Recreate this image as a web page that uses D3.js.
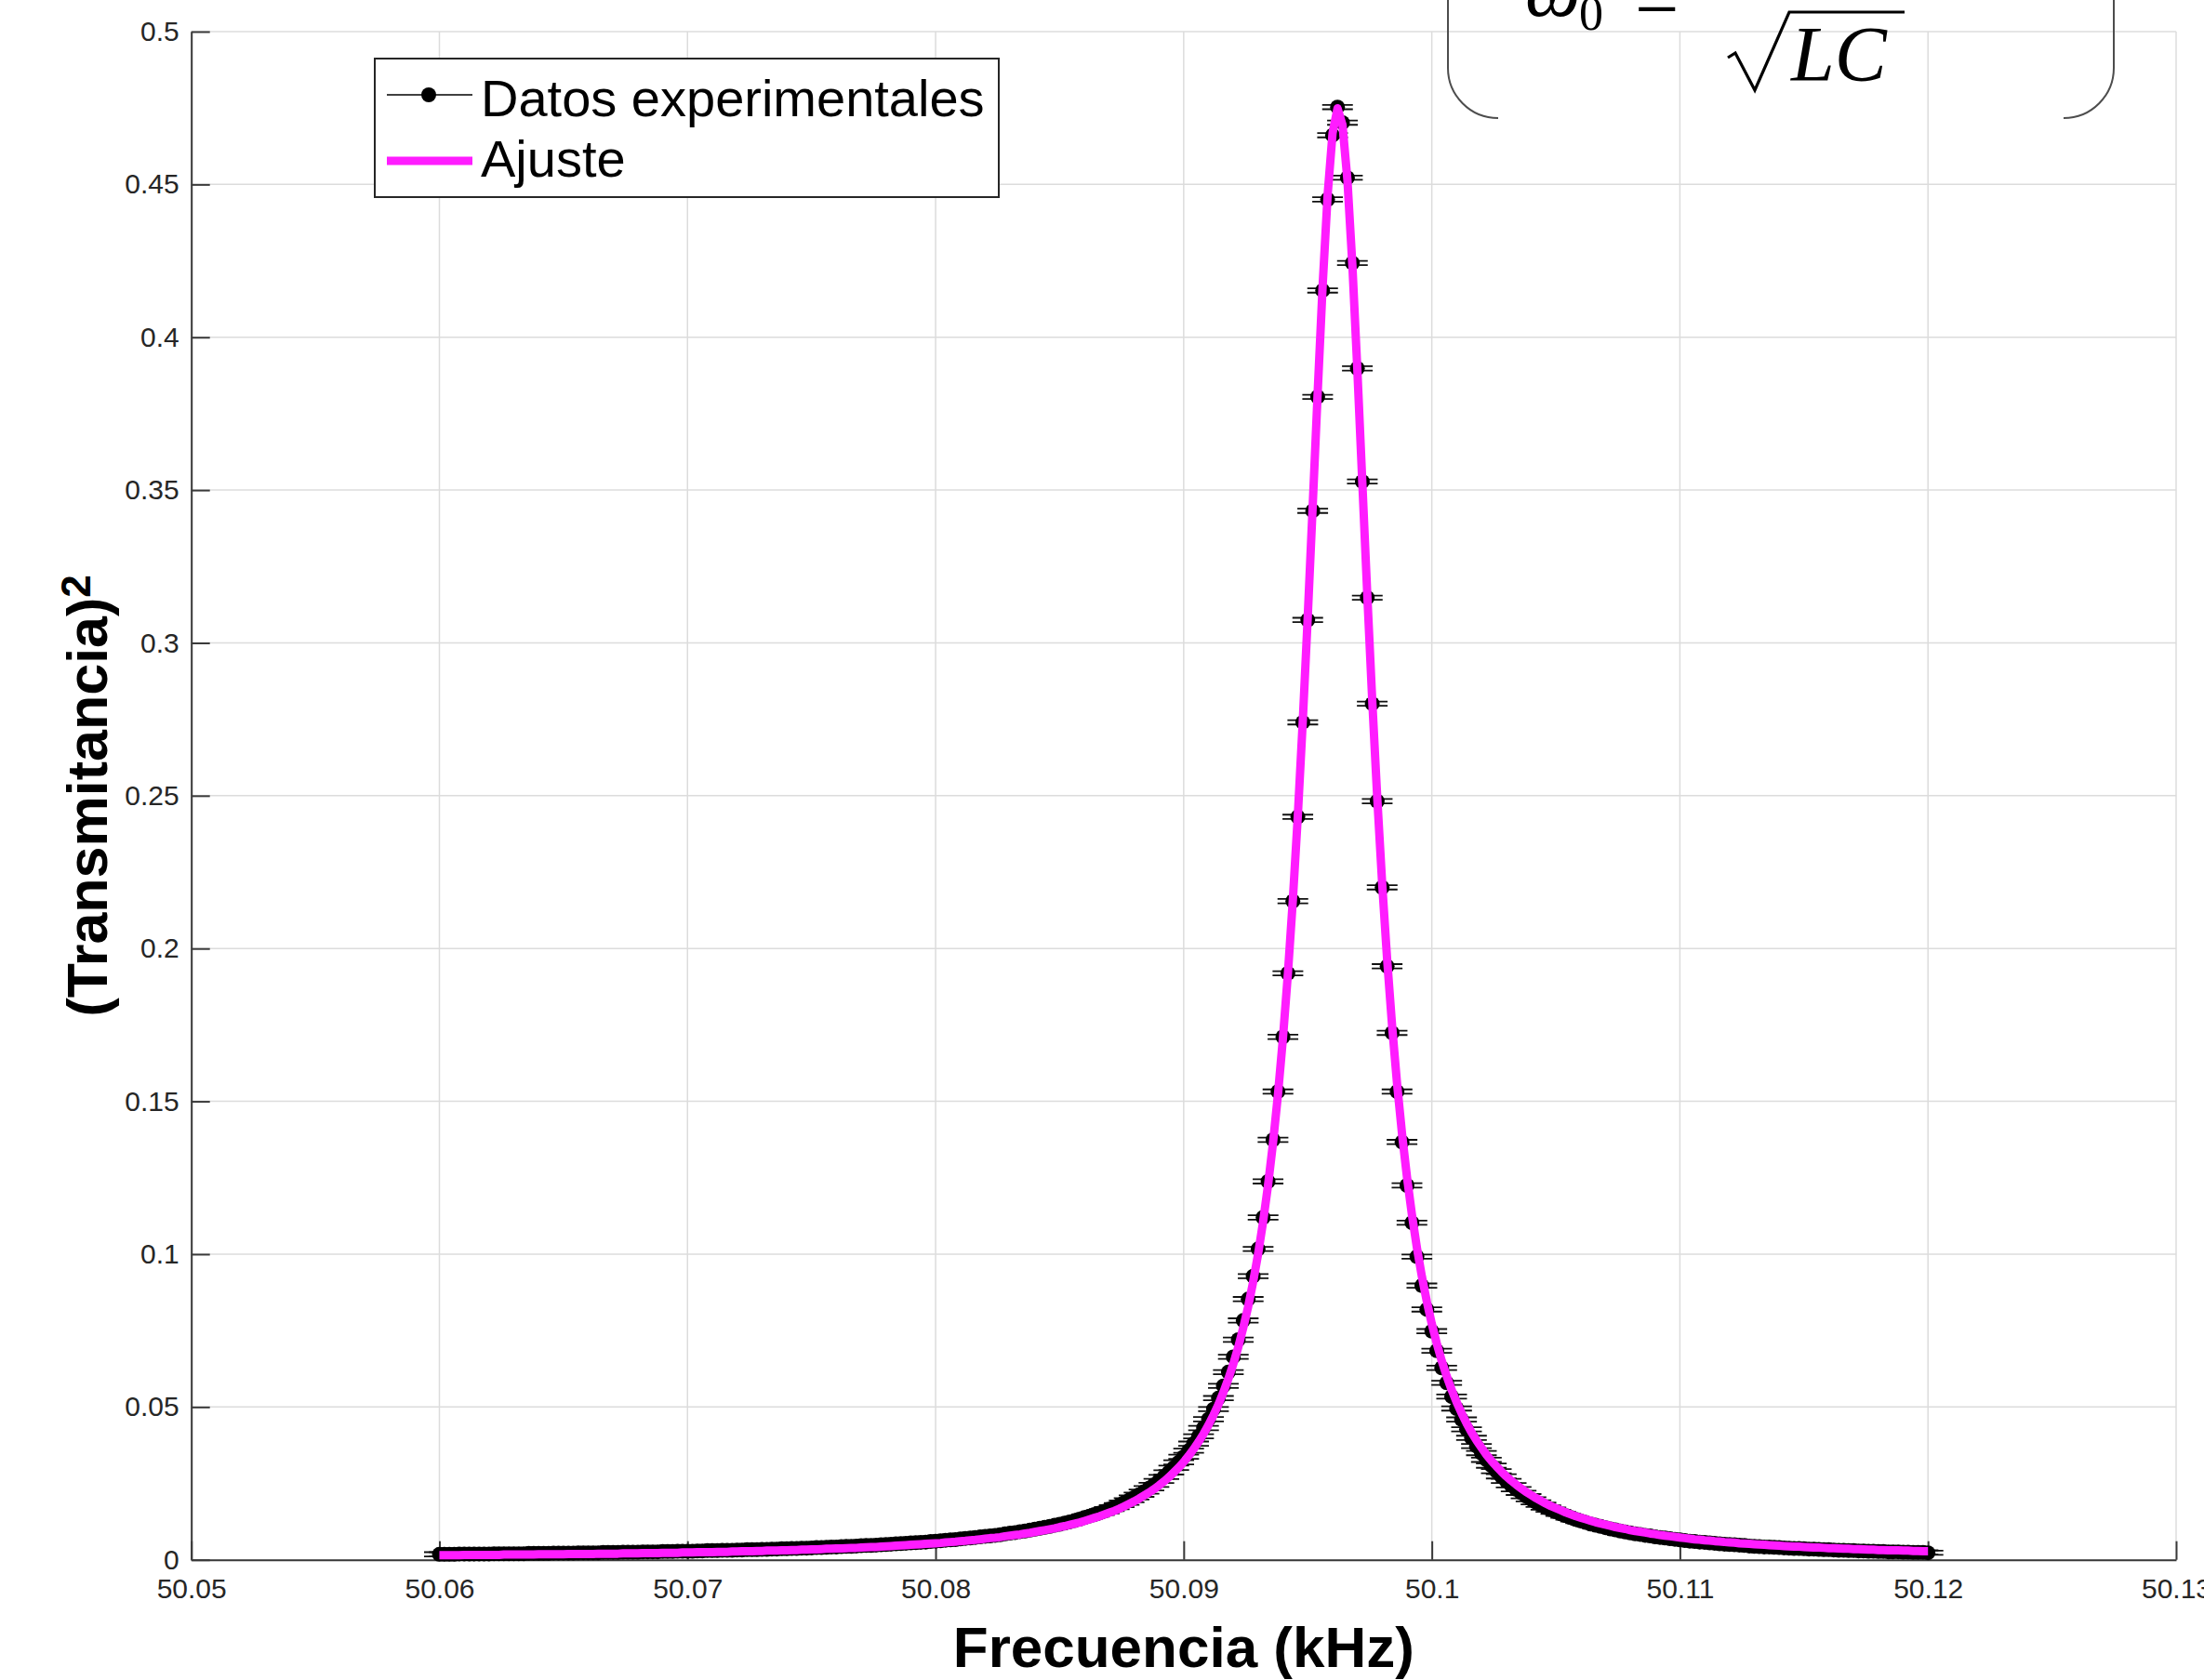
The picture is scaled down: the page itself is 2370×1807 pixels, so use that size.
<!DOCTYPE html>
<html>
<head>
<meta charset="utf-8">
<script src="https://cdn.jsdelivr.net/npm/d3@7"></script>
<style>
  html, body { margin: 0; padding: 0; background: #ffffff; }
  svg { display: block; }
</style>
</head>
<body>
<svg id="chart" width="2370" height="1807"></svg>
<script>
// Frequency sweep (kHz): 301 points from 50.0600 kHz in 0.2 Hz steps
const frecuenciaInicio = 50.06;
const pasoFrecuencia = 0.0002;

// Measured squared transmittance, one value per sweep point
const transmitancia2 = [
  .0018,.0018,.0018,.0018,.0019,.0019,.0019,.0019,.0019,.0019,
  .0019,.0020,.0020,.0020,.0020,.0020,.0020,.0020,.0021,.0021,
  .0021,.0021,.0021,.0022,.0022,.0022,.0022,.0022,.0023,.0023,
  .0023,.0023,.0023,.0024,.0024,.0024,.0024,.0025,.0025,.0025,
  .0025,.0026,.0026,.0026,.0026,.0027,.0027,.0027,.0028,.0028,
  .0028,.0028,.0029,.0029,.0030,.0030,.0030,.0031,.0031,.0031,
  .0032,.0032,.0033,.0033,.0033,.0034,.0034,.0035,.0035,.0036,
  .0036,.0037,.0037,.0038,.0038,.0039,.0040,.0040,.0041,.0042,
  .0042,.0043,.0044,.0044,.0045,.0046,.0047,.0047,.0048,.0049,
  .0050,.0051,.0052,.0053,.0054,.0055,.0056,.0057,.0058,.0060,
  .0061,.0062,.0064,.0065,.0066,.0068,.0070,.0071,.0073,.0075,
  .0077,.0078,.0080,.0082,.0085,.0087,.0089,.0092,.0094,.0097,
  .0100,.0103,.0106,.0109,.0113,.0116,.0120,.0124,.0128,.0133,
  .0138,.0143,.0148,.0153,.0159,.0166,.0172,.0179,.0187,.0195,
  .0204,.0213,.0223,.0234,.0245,.0258,.0271,.0286,.0301,.0319,
  .0337,.0357,.0380,.0404,.0431,.0460,.0493,.0529,.0569,.0614,
  .0664,.0720,.0783,.0853,.0928,.1017,.1120,.1238,.1374,.1532,
  .1711,.1919,.2155,.2431,.2740,.3075,.3432,.3805,.4153,.4451,
  .4661,.4753,.4702,.4522,.4243,.3898,.3528,.3148,.2801,.2482,
  .2200,.1942,.1724,.1532,.1367,.1225,.1103,.0992,.0897,.0819,
  .0748,.0684,.0628,.0579,.0534,.0495,.0459,.0427,.0399,.0372,
  .0349,.0327,.0308,.0290,.0273,.0258,.0244,.0231,.0219,.0208,
  .0198,.0188,.0180,.0171,.0164,.0157,.0150,.0144,.0138,.0132,
  .0127,.0122,.0117,.0113,.0109,.0105,.0101,.0098,.0094,.0091,
  .0088,.0085,.0083,.0080,.0078,.0075,.0073,.0071,.0069,.0067,
  .0065,.0063,.0061,.0060,.0058,.0057,.0055,.0054,.0052,.0051,
  .0050,.0049,.0048,.0047,.0045,.0044,.0043,.0042,.0042,.0041,
  .0040,.0039,.0038,.0037,.0037,.0036,.0035,.0035,.0034,.0033,
  .0033,.0032,.0031,.0031,.0030,.0030,.0029,.0029,.0028,.0028,
  .0027,.0027,.0026,.0026,.0026,.0025,.0025,.0024,.0024,.0024,
  .0023
];

// Fitted resonance curve evaluated on the same sweep
const ajuste = [
  .0015,.0015,.0015,.0015,.0015,.0016,.0016,.0016,.0016,.0016,
  .0016,.0016,.0016,.0017,.0017,.0017,.0017,.0017,.0017,.0017,
  .0018,.0018,.0018,.0018,.0018,.0018,.0019,.0019,.0019,.0019,
  .0019,.0019,.0020,.0020,.0020,.0020,.0020,.0021,.0021,.0021,
  .0021,.0022,.0022,.0022,.0022,.0023,.0023,.0023,.0023,.0024,
  .0024,.0024,.0025,.0025,.0025,.0025,.0026,.0026,.0026,.0027,
  .0027,.0028,.0028,.0028,.0029,.0029,.0030,.0030,.0030,.0031,
  .0031,.0032,.0032,.0033,.0033,.0034,.0034,.0035,.0036,.0036,
  .0037,.0037,.0038,.0039,.0039,.0040,.0041,.0042,.0042,.0043,
  .0044,.0045,.0046,.0047,.0048,.0049,.0050,.0051,.0052,.0053,
  .0054,.0055,.0057,.0058,.0059,.0061,.0062,.0064,.0065,.0067,
  .0069,.0071,.0072,.0074,.0077,.0079,.0081,.0083,.0086,.0088,
  .0091,.0094,.0097,.0100,.0103,.0107,.0110,.0114,.0118,.0122,
  .0127,.0132,.0137,.0142,.0148,.0154,.0160,.0167,.0175,.0183,
  .0191,.0200,.0210,.0220,.0231,.0243,.0256,.0270,.0286,.0302,
  .0320,.0340,.0362,.0386,.0412,.0441,.0473,.0508,.0548,.0592,
  .0641,.0696,.0759,.0829,.0910,.1001,.1106,.1226,.1364,.1523,
  .1707,.1918,.2160,.2435,.2745,.3086,.3449,.3819,.4169,.4464,
  .4668,.4749,.4695,.4514,.4234,.3892,.3524,.3157,.2811,.2495,
  .2212,.1964,.1747,.1558,.1394,.1252,.1129,.1021,.0927,.0845,
  .0772,.0708,.0651,.0601,.0556,.0516,.0480,.0447,.0417,.0391,
  .0367,.0344,.0324,.0306,.0289,.0273,.0259,.0246,.0234,.0222,
  .0212,.0202,.0193,.0184,.0176,.0169,.0162,.0155,.0149,.0143,
  .0138,.0133,.0128,.0123,.0119,.0115,.0111,.0107,.0104,.0101,
  .0097,.0094,.0092,.0089,.0086,.0084,.0081,.0079,.0077,.0075,
  .0073,.0071,.0069,.0067,.0066,.0064,.0063,.0061,.0060,.0058,
  .0057,.0056,.0054,.0053,.0052,.0051,.0050,.0049,.0048,.0047,
  .0046,.0045,.0044,.0043,.0043,.0042,.0041,.0040,.0040,.0039,
  .0038,.0038,.0037,.0036,.0036,.0035,.0035,.0034,.0033,.0033,
  .0032,.0032,.0031,.0031,.0031,.0030,.0030,.0029,.0029,.0028,
  .0028
];

// Uncertainty of each transmittance reading
const errorTransmitancia2 = 0.0007;

const ticksX = [50.05, 50.06, 50.07, 50.08, 50.09, 50.10, 50.11, 50.12, 50.13];
const etiquetasX = ["50.05", "50.06", "50.07", "50.08", "50.09", "50.1", "50.11", "50.12", "50.13"];
const ticksY = [0, 0.05, 0.10, 0.15, 0.20, 0.25, 0.30, 0.35, 0.40, 0.45, 0.50];
const etiquetasY = ["0", "0.05", "0.1", "0.15", "0.2", "0.25", "0.3", "0.35", "0.4", "0.45", "0.5"];
const leyenda = ["Datos experimentales", "Ajuste"];

const frecuencias = d3.range(transmitancia2.length)
  .map(i => +(frecuenciaInicio + i * pasoFrecuencia).toFixed(4));
const puntos = frecuencias.map((f, i) => ({ f, t: transmitancia2[i], a: ajuste[i] }));

const svg = d3.select("#chart");
const MAGENTA = "#ff1cff";
const TICK_COLOR = "#262626";

const x = d3.scaleLinear().domain([50.05, 50.13]).range([205.7, 2340]);
const y = d3.scaleLinear().domain([0, 0.5]).range([1677.7, 34]);

// Grid
const grid = svg.append("g").attr("stroke", "#dcdcdc").attr("stroke-width", 1.5);
grid.selectAll("line.gx").data(ticksX).join("line").attr("class", "gx")
  .attr("x1", d => x(d)).attr("x2", d => x(d))
  .attr("y1", y(0)).attr("y2", y(0.5));
grid.selectAll("line.gy").data(ticksY).join("line").attr("class", "gy")
  .attr("x1", x(50.05)).attr("x2", x(50.13))
  .attr("y1", d => y(d)).attr("y2", d => y(d));

// Axes with inward ticks
const ejeX = d3.axisBottom(x).tickValues(ticksX)
  .tickFormat((d, i) => etiquetasX[i]).tickSize(-20).tickSizeOuter(0).tickPadding(20);
const ejeY = d3.axisLeft(y).tickValues(ticksY)
  .tickFormat((d, i) => etiquetasY[i]).tickSize(-20).tickSizeOuter(0).tickPadding(13);

function estiloEje(g) {
  g.attr("font-family", "'Liberation Sans', Arial, sans-serif").attr("font-size", 30);
  g.select(".domain").attr("stroke", "#3a3a3a").attr("stroke-width", 2);
  g.selectAll(".tick line").attr("stroke", "#3a3a3a").attr("stroke-width", 2);
  g.selectAll(".tick text").attr("fill", TICK_COLOR);
}
svg.append("g").attr("transform", `translate(0,${y(0)})`).call(ejeX).call(estiloEje);
svg.append("g").attr("transform", `translate(${x(50.05)},0)`).call(ejeY).call(estiloEje);

// Experimental data: connecting line, error bars and markers
const datos = svg.append("g");
datos.append("path").datum(puntos)
  .attr("fill", "none").attr("stroke", "#000").attr("stroke-width", 1.5)
  .attr("d", d3.line().x(d => x(d.f)).y(d => y(d.t)));

const barras = datos.append("g").attr("stroke", "#111").attr("stroke-width", 1.8);
const capHalf = 16.5;
barras.selectAll("path").data(puntos).join("path")
  .attr("fill", "none")
  .attr("d", d => {
    const cx = x(d.f), y1 = y(d.t - errorTransmitancia2), y2 = y(d.t + errorTransmitancia2);
    return `M${cx},${y1}L${cx},${y2}` +
           `M${cx - capHalf},${y1}L${cx + capHalf},${y1}` +
           `M${cx - capHalf},${y2}L${cx + capHalf},${y2}`;
  });

datos.append("g").selectAll("circle").data(puntos).join("circle")
  .attr("cx", d => x(d.f)).attr("cy", d => y(d.t)).attr("r", 8).attr("fill", "#000");

// Fitted curve
svg.append("path").datum(puntos)
  .attr("fill", "none").attr("stroke", MAGENTA).attr("stroke-width", 9)
  .attr("stroke-linejoin", "round").attr("stroke-linecap", "butt")
  .attr("d", d3.line().x(d => x(d.f)).y(d => y(d.a)));

// Axis labels
svg.append("text")
  .attr("x", (x(50.05) + x(50.13)) / 2).attr("y", 1793)
  .attr("text-anchor", "middle")
  .attr("font-family", "'Liberation Sans', Arial, sans-serif")
  .attr("font-weight", "bold").attr("font-size", 62).attr("fill", "#000")
  .text("Frecuencia (kHz)");

const etiquetaY = svg.append("text")
  .attr("transform", `translate(115,${(y(0) + y(0.5)) / 2}) rotate(-90)`)
  .attr("text-anchor", "middle")
  .attr("font-family", "'Liberation Sans', Arial, sans-serif")
  .attr("font-weight", "bold").attr("font-size", 61).attr("fill", "#000");
etiquetaY.append("tspan").text("(Transmitancia)");
etiquetaY.append("tspan").attr("font-size", 44).attr("dy", -18).text("2");

// Legend
const ley = svg.append("g");
ley.append("rect").attr("x", 403).attr("y", 63).attr("width", 671).attr("height", 149)
  .attr("fill", "#fff").attr("stroke", "#262626").attr("stroke-width", 2);
ley.append("line").attr("x1", 416).attr("x2", 508).attr("y1", 102).attr("y2", 102)
  .attr("stroke", "#000").attr("stroke-width", 1.5);
ley.append("circle").attr("cx", 461).attr("cy", 102).attr("r", 8).attr("fill", "#000");
ley.append("line").attr("x1", 416).attr("x2", 508).attr("y1", 173).attr("y2", 173)
  .attr("stroke", MAGENTA).attr("stroke-width", 9);
ley.selectAll("text").data(leyenda).join("text")
  .attr("x", 517).attr("y", (d, i) => i === 0 ? 125 : 190)
  .attr("font-family", "'Liberation Sans', Arial, sans-serif")
  .attr("font-size", 56).attr("fill", "#000")
  .text(d => d);

// Resonance formula omega_0 = 1 / sqrt(LC) between large parentheses
const formula = svg.append("g");
formula.append("path")
  .attr("d", "M1557,-10 L1557,73 A54,54 0 0 0 1611,127")
  .attr("fill", "none").attr("stroke", "#4d4d4d").attr("stroke-width", 2);
formula.append("path")
  .attr("d", "M2273,-10 L2273,73 A54,54 0 0 1 2219,127")
  .attr("fill", "none").attr("stroke", "#4d4d4d").attr("stroke-width", 2);
const serif = "'Liberation Serif', 'DejaVu Serif', serif";
formula.append("text").attr("x", 1640).attr("y", 17)
  .attr("font-family", serif).attr("font-style", "italic").attr("font-size", 84)
  .text("ω");
formula.append("text").attr("x", 1698).attr("y", 32)
  .attr("font-family", serif).attr("font-size", 52).text("0");
formula.append("text").attr("x", 1758).attr("y", 30)
  .attr("font-family", serif).attr("font-size", 84).text("=");
formula.append("text").attr("x", 1950).attr("y", -40).attr("text-anchor", "middle")
  .attr("font-family", serif).attr("font-size", 84).text("1");
formula.append("line").attr("x1", 1850).attr("x2", 2052).attr("y1", -8).attr("y2", -8)
  .attr("stroke", "#000").attr("stroke-width", 3);
formula.append("path")
  .attr("d", "M1858,62 L1866,57 L1887,97 L1924,13 L2048,13")
  .attr("fill", "none").attr("stroke", "#000").attr("stroke-width", 3.2)
  .attr("stroke-linejoin", "miter");
formula.append("text").attr("x", 1926).attr("y", 87)
  .attr("font-family", serif).attr("font-style", "italic").attr("font-size", 84)
  .text("LC");
</script>
</body>
</html>
